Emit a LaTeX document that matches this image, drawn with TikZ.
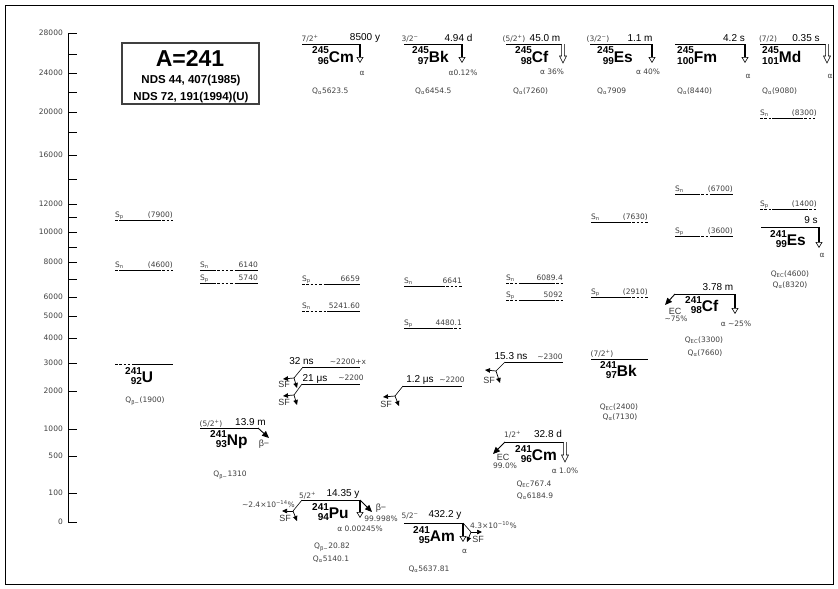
\documentclass[tikz,border=0pt]{standalone}
\usepackage{fontspec}
\setmainfont{Liberation Sans}
\newfontfamily\smallfam{DejaVu Sans}
\usetikzlibrary{arrows.meta}
\newcommand{\nuc}[3]{\raisebox{-2pt}{\fontsize{10}{10}\selectfont\bfseries\shortstack[r]{#1\\#2}}{\fontsize{15.5}{16}\selectfont\bfseries #3}}

\begin{document}
\begin{tikzpicture}[
    x=1pt,y=-1pt,
    lvl/.style={line width=1pt},
    sep/.style={line width=0.8pt},
    dsh/.style={dash pattern=on 2.5pt off 1.8pt},
    ath/.style={line width=1.8pt,-{Triangle[open,length=6pt,width=7pt,line width=0.6pt]}},
    aho/.pic={\draw[line width=0.55pt,fill=white] (-1.3,0) -- (-1.3,#1) -- (-3.5,#1) -- (0,#1+7) -- (3.5,#1) -- (1.3,#1) -- (1.3,0);},
    fa/.style={line width=0.7pt,-{Triangle[length=5pt,width=4.5pt]}},
    fb/.style={line width=0.9pt,-{Triangle[length=7pt,width=6pt]}},
    ln/.style={line width=0.6pt},
    sm/.style={inner sep=0pt,text=black!75,font=\smallfam\fontsize{7.5}{8}\selectfont},
    hl/.style={inner sep=0pt,font=\fontsize{10}{11}\selectfont},
    dk/.style={inner sep=0pt,text=black!80,font=\fontsize{9}{10}\selectfont},
    nucl/.style={inner sep=0pt,anchor=base west}
    ]
    \useasboundingbox (0,0) rectangle (838,589);
    \draw[line width=0.8pt] (5,5) rectangle (833,584);

    % energy axis
    \draw[line width=0.8pt] (68,33) -- (68,522);
    \foreach \y/\t in {33/28000,54/,73/24000,92/,112/20000,132/,155/16000,179/,204/12000,217/,232/10000,247/,262/8000,279/,297/6000,316/5000,338/4000,363/3000,391/2000,429/1000,456/500,493/100,522/0}
    {
      \draw[line width=0.8pt] (68,\y) -- (77,\y);
      \node[sm,anchor=east] (t\y) at (63,\y) {\t};
    }

    % title box
    \draw[line width=1.2pt,black!75] (122,43) rectangle (259,104);
    \node[inner sep=0pt,font=\fontsize{23}{24}\selectfont\bfseries] (ttl) at (190,58.5) {A=241};
    \node[inner sep=0pt,font=\fontsize{11.5}{12}\selectfont\bfseries] (ref1) at (191,80.5) {NDS 44, 407(1985)};
    \node[inner sep=0pt,font=\fontsize{11.5}{12}\selectfont\bfseries] (ref2) at (191,97.5) {NDS 72, 191(1994)(U)};

    % level ends
    \coordinate (cm245L) at (302,44);  \coordinate (cm245R) at (360,44);
    \coordinate (bk245L) at (404,44);  \coordinate (bk245R) at (462,44);
    \coordinate (cf245L) at (506,44);  \coordinate (cf245R) at (563,44);
    \coordinate (es245L) at (590,44);  \coordinate (es245R) at (652,44);
    \coordinate (fm245L) at (675,44);  \coordinate (fm245R) at (745,44);
    \coordinate (md245L) at (760,44);  \coordinate (md245R) at (827,44);
    \coordinate (u241L) at (115,364);  \coordinate (u241M) at (133,364); \coordinate (u241R) at (173,364);
    \coordinate (np241L) at (200,428); \coordinate (np241R) at (258,428);
    \coordinate (pu32L) at (303,367);  \coordinate (pu32R) at (360,367);
    \coordinate (pu21L) at (302,384);  \coordinate (pu21R) at (360,384);
    \coordinate (pu241L) at (302,500); \coordinate (pu241R) at (360,500);
    \coordinate (am12L) at (403,386);  \coordinate (am12R) at (462,386);
    \coordinate (am241L) at (404,523); \coordinate (am241R) at (463,523);
    \coordinate (cm15L) at (505,362);  \coordinate (cm15R) at (563,362);
    \coordinate (cm241L) at (505,442); \coordinate (cm241R) at (565,442);
    \coordinate (bk241L) at (591,359); \coordinate (bk241R) at (648,359);
    \coordinate (cf241L) at (675,294); \coordinate (cf241R) at (735,294);
    \coordinate (es241L) at (761,227); \coordinate (es241R) at (819,227);

    \foreach \n in {cm245,bk245,cf245,es245,fm245,md245,np241,pu32,pu21,pu241,am12,am241,cm15,cm241,bk241,cf241,es241}
      \draw[lvl] (\n L) -- (\n R);
    \draw[lvl,dsh] (u241L) -- (u241M);
    \draw[lvl] (u241M) -- (u241R);

    % separation energies
    \foreach \xa/\xb/\xc/\xd/\y/\so/\si/\lab/\val in {
      115/122/158/173/220/dsh/solid/p/(7900), 115/122/158/173/270/dsh/solid/n/(4600),
      200/213/237/258/270/solid/dsh/n/6140, 200/213/237/258/283/solid/dsh/p/5740,
      302/325/360/360/284/dsh/solid/p/6659, 302/327/360/360/311/dsh/solid/n/5241.60,
      404/442/462/462/286/solid/dsh/n/6641, 404/450/462/462/328/solid/dsh/p/4480.1,
      506/520/552/563/283/dsh/solid/n/6089.4, 506/520/552/563/300/dsh/solid/p/5092,
      591/628/648/648/222/solid/dsh/n/(7630), 591/628/648/648/297/solid/dsh/p/(2910),
      675/697/712/733/194/solid/dsh/n/(6700), 675/697/712/733/236/solid/dsh/p/(3600),
      760/772/800/817/118/dsh/solid/n/(8300), 760/772/805/817/209/dsh/solid/p/(1400)}
    {
      \draw[sep,\so] (\xa,\y) -- (\xb,\y) (\xc,\y) -- (\xd,\y);
      \draw[sep,\si] (\xb,\y) -- (\xc,\y);
      \node[sm,anchor=base west] (s\xa-\y) at (\xa,\y-2.5) {S\textsubscript{\lab}};
      \node[sm,anchor=base east] (v\xa-\y) at (\xd,\y-2.5) {\val};
    }

    % A=245 parents
    \node[sm] (cm245s) at (310,39) {7/2\textsuperscript{+}};
    \node[hl] (cm245h) at (365,38) {8500 y};
    \node[nucl] (cm245n) at (312,62) {\nuc{245}{96}{Cm}};
    \draw[ath] (cm245R) -- ++(0,19);
    \node[sm] (cm245a) at (362,73) {α};
    \node[sm,anchor=west] (cm245q) at (312,91) {Q\textsubscript{α}5623.5};

    \node[sm] (bk245s) at (410,39) {3/2\textsuperscript{−}};
    \node[hl] (bk245h) at (458.5,38) {4.94 d};
    \node[nucl] (bk245n) at (412,62) {\nuc{245}{97}{Bk}};
    \draw[ath] (bk245R) -- ++(0,19);
    \node[sm] (bk245a) at (463,73) {α0.12\%};
    \node[sm,anchor=west] (bk245q) at (415,91) {Q\textsubscript{α}6454.5};

    \node[sm] (cf245s) at (514,39) {(5/2\textsuperscript{+})};
    \node[hl] (cf245h) at (545,38) {45.0 m};
    \node[nucl] (cf245n) at (515,62) {\nuc{245}{98}{Cf}};
    \pic at (cf245R) {aho=12};
    \node[sm] (cf245a) at (552,72) {α 36\%};
    \node[sm,anchor=west] (cf245q) at (513,91) {Q\textsubscript{α}(7260)};

    \node[sm] (es245s) at (598,39) {(3/2\textsuperscript{−})};
    \node[hl] (es245h) at (640,38) {1.1 m};
    \node[nucl] (es245n) at (597,62) {\nuc{245}{99}{Es}};
    \draw[ath] (es245R) -- ++(0,19);
    \node[sm] (es245a) at (648,72) {α 40\%};
    \node[sm,anchor=west] (es245q) at (597,91) {Q\textsubscript{α}7909};

    \node[hl] (fm245h) at (734,38) {4.2 s};
    \node[nucl] (fm245n) at (677,62) {\nuc{245}{100}{Fm}};
    \draw[ath] (fm245R) -- ++(0,19);
    \node[sm] (fm245a) at (748,76) {α};
    \node[sm,anchor=west] (fm245q) at (677,91) {Q\textsubscript{α}(8440)};

    \node[sm] (md245s) at (768,39) {(7/2)};
    \node[hl] (md245h) at (806,38) {0.35 s};
    \node[nucl] (md245n) at (762,62) {\nuc{245}{101}{Md}};
    \pic at (md245R) {aho=12};
    \node[sm] (md245a) at (830,76) {α};
    \node[sm,anchor=west] (md245q) at (762,91) {Q\textsubscript{α}(9080)};

    % 241U, 241Np
    \node[nucl] (u241n) at (125,382) {\nuc{241}{92}{U}};
    \node[sm] (u241q) at (145,401) {Q\textsubscript{β−}(1900)};

    \node[sm] (np241s) at (211,424) {(5/2\textsuperscript{+})};
    \node[hl] (np241h) at (250.5,422) {13.9 m};
    \node[nucl] (np241n) at (210,445) {\nuc{241}{93}{Np}};
    \draw[fb] (np241R) -- ++(11,10);
    \node[dk] (np241b) at (264,444) {β−};
    \node[sm] (np241q) at (230,475) {Q\textsubscript{β−}1310};

    % 241Pu and its fission isomers
    \node[hl] (pu32h) at (301.5,361.5) {32 ns};
    \node[sm] (pu32e) at (348,362) {\textasciitilde2200+x};
    \draw[ln] (pu32L) -- ++(-9,11) coordinate (pu32f);
    \draw[fa] (pu32f) -- ++(-11,1);
    \draw[fa] (pu32f) -- ++(3,10);
    \node[dk] (pu32sf) at (284,384) {SF};

    \node[hl] (pu21h) at (315,378.5) {21 μs};
    \node[sm] (pu21e) at (351,378) {\textasciitilde2200};
    \draw[ln] (pu21L) -- ++(-8,11) coordinate (pu21f);
    \draw[fa] (pu21f) -- ++(-11,1);
    \draw[fa] (pu21f) -- ++(3,10);
    \node[dk] (pu21sf) at (284,402) {SF};

    \node[sm] (pu241s) at (307.5,495.5) {5/2\textsuperscript{+}};
    \node[hl] (pu241h) at (343,494.5) {14.35 y};
    \node[nucl] (pu241n) at (312,518.5) {\nuc{241}{94}{Pu}};
    \draw[ln] (pu241L) -- ++(-9,11) coordinate (pu241f);
    \draw[fa] (pu241f) -- ++(-11,0);
    \draw[fa] (pu241f) -- ++(4,10);
    \node[dk] (pu241sf) at (285,518) {SF};
    \node[sm,anchor=east] (pu241sfb) at (295,504.5) {\textasciitilde2.4×10\textsuperscript{−14}\%};
    \draw[ath] (pu241R) -- ++(0,18);
    \draw[fb] (pu241R) -- ++(12,12);
    \node[dk] (pu241b) at (381,508.5) {β−};
    \node[sm] (pu241bb) at (381,518.5) {99.998\%};
    \node[sm] (pu241a) at (360,529) {α 0.00245\%};
    \node[sm] (pu241q1) at (332,547) {Q\textsubscript{β−}20.82};
    \node[sm] (pu241q2) at (331,559) {Q\textsubscript{α}5140.1};

    % 241Am
    \node[hl] (am12h) at (420,380) {1.2 μs};
    \node[sm] (am12e) at (452,380) {\textasciitilde2200};
    \draw[ln] (am12L) -- ++(-8,10) coordinate (am12f);
    \draw[fa] (am12f) -- ++(-12,1);
    \draw[fa] (am12f) -- ++(4,10);
    \node[dk] (am12sf) at (386,404) {SF};

    \node[sm] (am241s) at (410,516) {5/2\textsuperscript{−}};
    \node[hl] (am241h) at (445,515.5) {432.2 y};
    \node[nucl] (am241n) at (413,541.5) {\nuc{241}{95}{Am}};
    \draw[ath] (am241R) -- ++(0,19);
    \draw[ln] (am241R) -- ++(8,9) coordinate (am241f);
    \draw[fa] (am241f) -- ++(11,0);
    \draw[fa] (am241f) -- ++(-4,10);
    \node[sm,anchor=west] (am241sfb) at (470,525) {4.3×10\textsuperscript{−10}\%};
    \node[dk] (am241sf) at (478,539) {SF};
    \node[sm] (am241a) at (464.5,551) {α};
    \node[sm] (am241q) at (429,569.5) {Q\textsubscript{α}5637.81};

    % 241Cm
    \node[hl] (cm15h) at (511,356) {15.3 ns};
    \node[sm] (cm15e) at (550,357) {\textasciitilde2300};
    \draw[ln] (cm15L) -- ++(-9,9) coordinate (cm15f);
    \draw[fa] (cm15f) -- ++(-11,-1);
    \draw[fa] (cm15f) -- ++(4,12);
    \node[dk] (cm15sf) at (489,380) {SF};

    \node[sm] (cm241s) at (512.5,435) {1/2\textsuperscript{+}};
    \node[hl] (cm241h) at (548,434) {32.8 d};
    \node[nucl] (cm241n) at (515,460) {\nuc{241}{96}{Cm}};
    \draw[fb] (cm241L) -- ++(-12,12);
    \node[dk] (cm241ec) at (503,457.5) {EC};
    \node[sm] (cm241eb) at (505,466) {99.0\%};
    \pic at (cm241R) {aho=13};
    \node[sm] (cm241a) at (565,471) {α 1.0\%};
    \node[sm] (cm241q1) at (534,484) {Q\textsubscript{EC}767.4};
    \node[sm] (cm241q2) at (535,496) {Q\textsubscript{α}6184.9};

    % 241Bk, 241Cf, 241Es
    \node[sm] (bk241s) at (602,353.5) {(7/2\textsuperscript{+})};
    \node[nucl] (bk241n) at (600,376.5) {\nuc{241}{97}{Bk}};
    \node[sm] (bk241q1) at (619,407) {Q\textsubscript{EC}(2400)};
    \node[sm] (bk241q2) at (620,417.5) {Q\textsubscript{α}(7130)};

    \node[hl] (cf241h) at (718,287.5) {3.78 m};
    \node[nucl] (cf241n) at (685,311.5) {\nuc{241}{98}{Cf}};
    \draw[fb] (cf241L) -- ++(-10,11);
    \node[dk] (cf241ec) at (675,311) {EC};
    \node[sm] (cf241eb) at (676,318.5) {\textasciitilde75\%};
    \draw[ath] (cf241R) -- ++(0,20);
    \node[sm] (cf241a) at (736,323.5) {α \textasciitilde25\%};
    \node[sm] (cf241q1) at (704,340) {Q\textsubscript{EC}(3300)};
    \node[sm] (cf241q2) at (705,353) {Q\textsubscript{α}(7660)};

    \node[hl] (es241h) at (811,220) {9 s};
    \node[nucl] (es241n) at (770,245) {\nuc{241}{99}{Es}};
    \draw[ath] (es241R) -- ++(0,21);
    \node[sm] (es241a) at (822,255) {α};
    \node[sm] (es241q1) at (790,274) {Q\textsubscript{EC}(4600)};
    \node[sm] (es241q2) at (790,285) {Q\textsubscript{α}(8320)};
\end{tikzpicture}
\end{document}
